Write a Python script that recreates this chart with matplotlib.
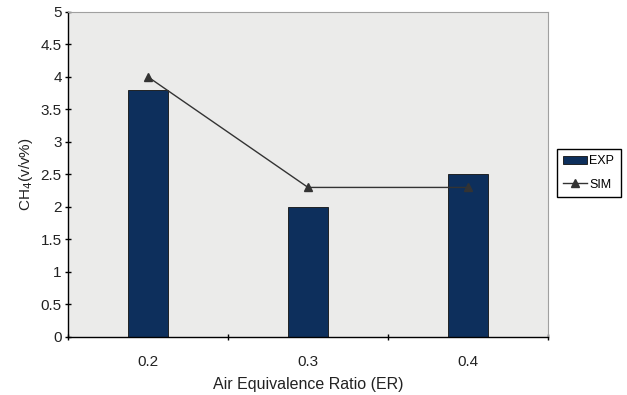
import numpy as np
import matplotlib.pyplot as plt

# --- DATA ---
categories = ['0.2', '0.3', '0.4']
exp_values = [3.8, 2.0, 2.5]
sim_values = [4.0, 2.3, 2.3]

plt.rcParams['font.family'] = ['Liberation Sans', 'DejaVu Sans']

fig = plt.figure(figsize=(6.27, 3.95), dpi=100)
ax = fig.add_axes([0.1085, 0.147, 0.7656, 0.8228])
ax.set_facecolor('#ebebea')

x = np.arange(len(categories)) + 0.5
bars = ax.bar(x, exp_values, width=0.25, color='#0d2f5c', edgecolor='#111111',
              linewidth=0.6, label='EXP', zorder=2)
line, = ax.plot(x, sim_values, color='#333333', linewidth=1.0, marker='^',
                markersize=6, label='SIM', zorder=3)

ax.set_xlim(0, 3)
ax.set_ylim(0, 5)
ax.set_yticks(np.arange(0, 5.01, 0.5))
ax.set_yticklabels(['0', '0.5', '1', '1.5', '2', '2.5', '3', '3.5', '4', '4.5', '5'])

# category boundaries get tick marks, labels sit at the centres
ax.set_xticks([0, 1, 2, 3])
ax.set_xticklabels([])
ax.set_xticks(x, minor=True)
ax.set_xticklabels(categories, minor=True)
ax.tick_params(axis='x', which='minor', length=0, pad=13, labelsize=11, labelcolor='#222222')
ax.tick_params(axis='x', which='major', length=5, direction='inout', width=1)
ax.tick_params(axis='y', length=5, direction='inout', width=1, labelsize=11, pad=2,
               labelcolor='#222222')

for s in ['top', 'right']:
    ax.spines[s].set_color('#a0a0a0')
for s in ['left', 'bottom']:
    ax.spines[s].set_color('#000000')
    ax.spines[s].set_linewidth(1.0)

ax.set_ylabel('CH$_4$(v/v%)', fontsize=11, labelpad=4, color='#222222')
ax.set_xlabel('Air Equivalence Ratio (ER)', fontsize=11.5, labelpad=6, color='#222222')

ax.legend([bars, line], ['EXP', 'SIM'], loc='upper left',
          bbox_to_anchor=(557 / 627, 1 - 149 / 395), bbox_transform=fig.transFigure,
          frameon=True, fancybox=False, edgecolor='black', framealpha=1, fontsize=9,
          handlelength=1.9, borderpad=0.5, labelspacing=0.9, handletextpad=0.2,
          borderaxespad=0)

fig.savefig('out.png', dpi=100)
